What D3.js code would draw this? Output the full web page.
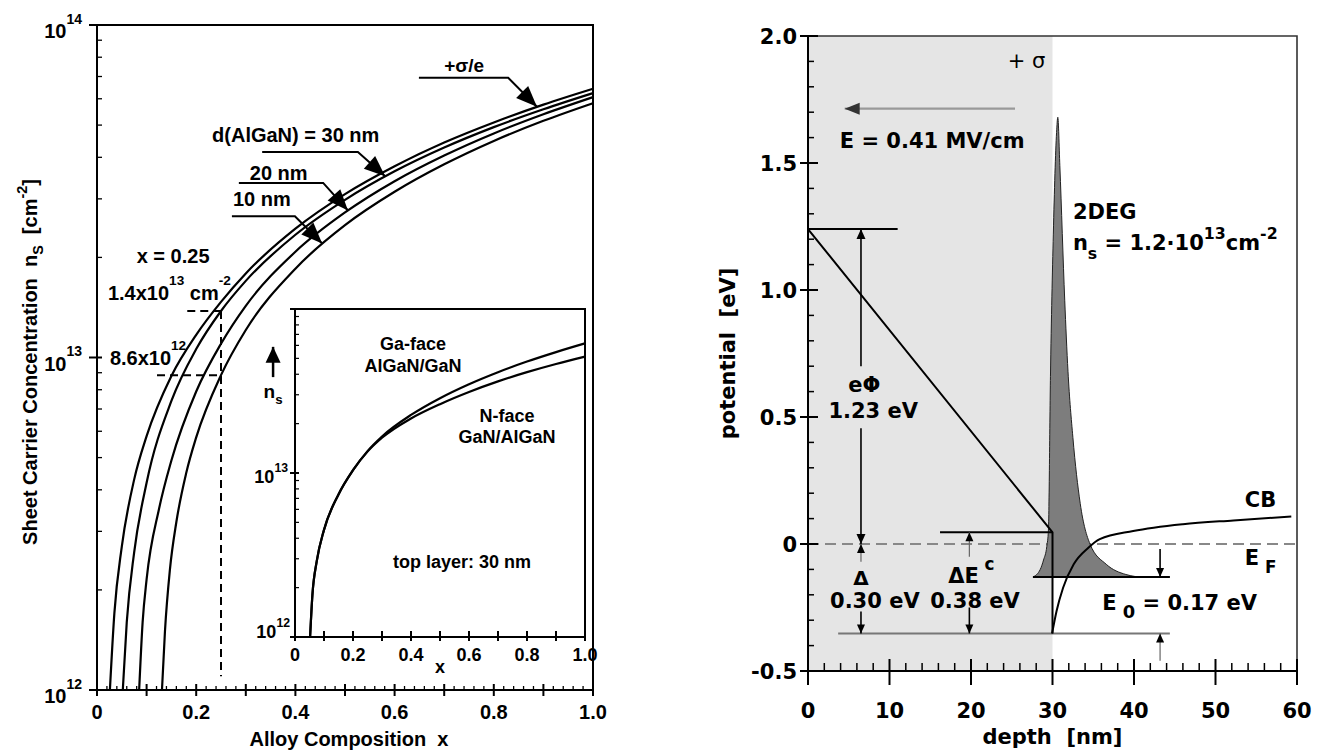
<!DOCTYPE html>
<html><head><meta charset="utf-8">
<script src="https://cdn.jsdelivr.net/npm/d3@7"></script>
<style>
body{margin:0;background:#fff;}
svg{display:block;}
text{white-space:pre;}
.lf{font-family:"Liberation Sans",Arial,Helvetica,sans-serif;font-weight:bold;}
.rf{font-family:"DejaVu Sans",sans-serif;font-weight:bold;}
</style></head><body>
<svg id="c" width="1324" height="754"></svg>
<script>
// ================= DATA =================
// Left panel: sheet carrier concentration vs Al composition x
const xSigma  = [0.026,0.035,0.050,0.075,0.100,0.150,0.200,0.250,0.300,0.400,0.500,0.600,0.700,0.800,0.900,1.000];
const nsSigma = [1.0e12,1.7e12,2.7e12,4.3e12,5.8e12,8.8e12,1.17e13,1.47e13,1.79e13,2.44e13,3.10e13,3.76e13,4.43e13,5.09e13,5.76e13,6.43e13];
const x30  = [0.052,0.060,0.075,0.100,0.150,0.200,0.250,0.300,0.400,0.500,0.600,0.700,0.800,0.900,1.000];
const ns30 = [1.0e12,1.6e12,2.6e12,4.2e12,7.4e12,1.06e13,1.38e13,1.70e13,2.34e13,2.98e13,3.63e13,4.28e13,4.93e13,5.58e13,6.24e13];
const x20  = [0.085,0.092,0.100,0.125,0.150,0.200,0.250,0.300,0.400,0.500,0.600,0.700,0.800,0.900,1.000];
const ns20 = [1.0e12,1.6e12,2.15e12,3.5e12,4.9e12,7.9e12,1.10e13,1.43e13,2.08e13,2.73e13,3.39e13,4.05e13,4.72e13,5.39e13,6.07e13];
const x10  = [0.131,0.137,0.147,0.160,0.180,0.200,0.250,0.300,0.400,0.500,0.600,0.700,0.800,0.900,1.000];
const ns10 = [1.0e12,1.5e12,2.3e12,3.2e12,4.5e12,5.75e12,8.85e12,1.21e13,1.85e13,2.50e13,3.15e13,3.81e13,4.48e13,5.15e13,5.82e13];
// x = 0.25 read-off
const markX = 0.25;
const markLevels = [1.38e13, 8.85e12];
const markStarts = [0.182, 0.121];
const markBottom = 1.1e12;
// Inset: Ga-face vs N-face (30 nm top layer)
const xGa  = [0.052,0.060,0.075,0.100,0.150,0.200,0.250,0.300,0.400,0.500,0.600,0.700,0.800,0.900,1.000];
const nsGa = [1.0e12,1.8e12,2.9e12,4.5e12,7.4e12,1.04e13,1.36e13,1.67e13,2.26e13,2.86e13,3.48e13,4.12e13,4.78e13,5.46e13,6.17e13];
const xN   = [0.052,0.060,0.075,0.100,0.150,0.200,0.250,0.300,0.400,0.500,0.600,0.700,0.800,0.900,1.000];
const nsN  = [1.0e12,1.8e12,2.9e12,4.5e12,7.4e12,1.04e13,1.35e13,1.64e13,2.15e13,2.63e13,3.12e13,3.62e13,4.12e13,4.62e13,5.12e13];
const xTickLabels = ["0","0.2","0.4","0.6","0.8","1.0"];
const xTickValues = [0,0.2,0.4,0.6,0.8,1.0];
const nsTickValues = [1e12,1e13,1e14];
const nsTickExp = ["12","13","14"];

// Right panel: band diagram
const barrierX = [0, 30, 30];
const barrierY = [1.24, 0.046, -0.352];
const cbX = [29.95,30.5,31.3,32.6,34.4,35.8,39.9,46.0,52.2,59.3];
const cbY = [-0.352,-0.264,-0.172,-0.080,-0.015,0.019,0.051,0.078,0.093,0.108];
const degX = [27.6,28.5,28.9,29.3,29.5,29.75,30.1,30.5,30.65,30.9,31.5,31.9,32.5,33.4,34.6,36.6,39.0,41.1,44.4];
const degY = [-0.13,-0.10,-0.063,-0.01,0.055,0.66,1.22,1.62,1.68,1.49,0.96,0.68,0.42,0.16,0.0,-0.08,-0.12,-0.13,-0.13];
const e0Level = -0.13;
const levelPhi = 1.24, levelDEc = 0.046, levelBottom = -0.352;
const depthTicks = [0,10,20,30,40,50,60];
const depthTickLabels = ["0","10","20","30","40","50","60"];
const potTicks = [-0.5,0,0.5,1.0,1.5,2.0];
const potTickLabels = ["-0.5","0","0.5","1.0","1.5","2.0"];

// ================= HELPERS =================
const svg = d3.select("#c");
function richText(g, x, y, parts, size, opt){
  opt = opt || {};
  const sup = opt.sup ?? 0.7, sub = opt.sub ?? 0.35, small = opt.small ?? 0.68;
  const t = g.append("text").attr("x",x).attr("y",y).attr("font-size",size);
  if(opt.anchor) t.attr("text-anchor",opt.anchor);
  if(opt.transform) t.attr("transform",opt.transform);
  let cur = 0;
  parts.forEach(p=>{
    const [k,s] = typeof p === "string" ? ["n",p] : p;
    const target = k==="sup" ? -size*sup : k==="sub" ? size*sub : 0;
    const ts = t.append("tspan").attr("dy", target-cur).text(s);
    if(k!=="n") ts.attr("font-size", size*small);
    cur = target;
  });
  return t;
}
function head(g, x1,y1,x2,y2,len,hw,fill){
  const dx=x2-x1, dy=y2-y1, L=Math.hypot(dx,dy), ux=dx/L, uy=dy/L;
  const bx=x2-ux*len, by=y2-uy*len;
  g.append("path").attr("d",`M${x2},${y2}L${bx-uy*hw},${by+ux*hw}L${bx+uy*hw},${by-ux*hw}Z`).attr("fill",fill||"#000");
}
function arrow(g,x1,y1,x2,y2,o){
  o=o||{};
  g.append("line").attr("x1",x1).attr("y1",y1).attr("x2",x2).attr("y2",y2)
   .attr("stroke",o.stroke||"#000").attr("stroke-width",o.sw||1.6);
  head(g,x1,y1,x2,y2,o.len||10,o.hw||4.5,o.fill);
}

// ================= LEFT PANEL =================
const xL = d3.scaleLinear().domain([0,1]).range([97,593]);
const yL = d3.scaleLog().domain([1e12,1e14]).range([690,25]);
const gL = svg.append("g").attr("class","lf");

gL.append("rect").attr("x",xL(0)).attr("y",yL(1e14)).attr("width",xL(1)-xL(0)).attr("height",yL(1e12)-yL(1e14))
  .attr("fill","none").attr("stroke","#000").attr("stroke-width",2);

// y ticks
yL.ticks().forEach(t=>{
  const major = nsTickValues.some(v=>Math.abs(v-t)/v<1e-6);
  gL.append("line").attr("x1",xL(0)-(major?8:0)).attr("x2",xL(0)+5)
    .attr("y1",yL(t)).attr("y2",yL(t)).attr("stroke","#000").attr("stroke-width",major?2:1.3);
});
nsTickValues.forEach((v,i)=>{
  richText(gL, xL(0)-15, yL(v)+13, ["10",["sup",nsTickExp[i]]], 20, {anchor:"end", sup:0.72, small:0.7});
});
// x ticks
d3.range(0,51).map(i=>i/50).forEach(t=>{
  const major = Math.abs(t*10-Math.round(t*10))<1e-6;
  gL.append("line").attr("x1",xL(t)).attr("x2",xL(t))
    .attr("y1",yL(1e12)-(major?6:4)).attr("y2",yL(1e12)+(major?6:0))
    .attr("stroke","#000").attr("stroke-width",major?2:1.3);
});
xTickValues.forEach((v,i)=>{
  gL.append("text").attr("x",xL(v)).attr("y",yL(1e12)+29).attr("text-anchor","middle").attr("font-size",20).text(xTickLabels[i]);
});
// axis titles
gL.append("text").attr("x",xL(0.508)).attr("y",746).attr("text-anchor","middle").attr("font-size",20).text("Alloy Composition  x");
richText(gL, 0, 0, ["Sheet Carrier Concentration  n",["sub","S"],"  [cm",["sup","-2"],"]"], 20,
  {anchor:"middle", transform:"translate(37,362) rotate(-90)", sup:0.5, sub:0.3, small:0.72});

// curves
const lineL = d3.line().x(d=>xL(d[0])).y(d=>yL(d[1])).curve(d3.curveMonotoneX);
[[xSigma,nsSigma],[x30,ns30],[x20,ns20],[x10,ns10]].forEach(([xs,ns])=>{
  gL.append("path").attr("d",lineL(d3.zip(xs,ns))).attr("fill","none").attr("stroke","#000").attr("stroke-width",2.2);
});
// dashed read-off
markLevels.forEach((lv,i)=>{
  gL.append("line").attr("x1",xL(markStarts[i])).attr("x2",xL(markX)).attr("y1",yL(lv)).attr("y2",yL(lv))
    .attr("stroke","#000").attr("stroke-width",2).attr("stroke-dasharray","8,5");
});
gL.append("line").attr("x1",xL(markX)).attr("x2",xL(markX)).attr("y1",yL(markLevels[0])).attr("y2",yL(markBottom))
  .attr("stroke","#000").attr("stroke-width",2).attr("stroke-dasharray","8,5");

// leader annotations (data units: x, log10 ns)
const leaders = [
  {x0:0.649,x1:0.829,lv:13.841,tx:0.887,tl:13.754},
  {x0:0.333,x1:0.526,lv:13.618,tx:0.581,tl:13.545},
  {x0:0.286,x1:0.456,lv:13.525,tx:0.506,tl:13.442},
  {x0:0.272,x1:0.399,lv:13.425,tx:0.454,tl:13.343}
];
leaders.forEach(a=>{
  const p0=[xL(a.x0),yL(10**a.lv)], p1=[xL(a.x1),yL(10**a.lv)], p2=[xL(a.tx),yL(10**a.tl)];
  gL.append("path").attr("d",`M${p0}L${p1}L${p2}`).attr("fill","none").attr("stroke","#000").attr("stroke-width",2);
  head(gL,p1[0],p1[1],p2[0],p2[1],21,8.5);
});
richText(gL, xL(0.700), yL(10**13.859), ["+σ/e"], 19);
richText(gL, xL(0.232), yL(10**13.648), ["d(AlGaN) = 30 nm"], 20);
richText(gL, xL(0.308), yL(10**13.534), ["20 nm"], 20);
richText(gL, xL(0.274), yL(10**13.455), ["10 nm"], 20);
richText(gL, xL(0.080), yL(10**13.284), ["x = 0.25"], 20);
richText(gL, xL(0.022), yL(10**13.173), ["1.4x10",["sup","13"]," cm",["sup","-2"]], 20, {sup:0.75});
richText(gL, xL(0.026), yL(10**12.977), ["8.6x10",["sup","12"]], 20, {sup:0.75});
// n_s arrow
arrow(gL, xL(0.355), yL(10**12.941), xL(0.355), yL(10**13.032), {sw:2.5, len:16, hw:7.5});
richText(gL, xL(0.355), yL(10**12.878), ["n",["sub","s"]], 19, {anchor:"middle", sub:0.3, small:0.7});

// ---- inset ----
const xI = d3.scaleLinear().domain([0,1]).range([295,585]);
const yI = d3.scaleLog().domain([1e12,1e14]).range([637,309]);
const gI = gL.append("g");
gI.append("rect").attr("x",xI(0)).attr("y",yI(1e14)).attr("width",xI(1)-xI(0)).attr("height",yI(1e12)-yI(1e14))
  .attr("fill","#fff").attr("stroke","#000").attr("stroke-width",2);
yI.ticks().forEach(t=>{
  const major = [1e12,1e13,1e14].some(v=>Math.abs(v-t)/v<1e-6);
  gI.append("line").attr("x1",xI(0)-(major?5:0)).attr("x2",xI(0)+4).attr("y1",yI(t)).attr("y2",yI(t))
    .attr("stroke","#000").attr("stroke-width",major?2:1.2);
});
d3.range(0,11).map(i=>i/10).forEach(t=>{
  gI.append("line").attr("x1",xI(t)).attr("x2",xI(t)).attr("y1",yI(1e12)-6).attr("y2",yI(1e12)+4)
    .attr("stroke","#000").attr("stroke-width",2);
});
xTickValues.forEach((v,i)=>{
  gI.append("text").attr("x",xI(v)).attr("y",yI(1e12)+24).attr("text-anchor","middle").attr("font-size",18).text(xTickLabels[i]);
});
richText(gI, xI(0)-7, yI(1e13)+10, ["10",["sup","13"]], 18, {anchor:"end", sup:0.6});
richText(gI, xI(0)-5, yI(1e12)+1, ["10",["sup","12"]], 18, {anchor:"end", sup:0.6});
gI.append("text").attr("x",xI(0.5)).attr("y",yI(1e12)+36).attr("text-anchor","middle").attr("font-size",18).text("x");
[[xGa,nsGa],[xN,nsN]].forEach(([xs,ns])=>{
  gI.append("path").attr("d",d3.line().x(d=>xI(d[0])).y(d=>yI(d[1])).curve(d3.curveMonotoneX)(d3.zip(xs,ns)))
    .attr("fill","none").attr("stroke","#000").attr("stroke-width",2.2);
});
gI.append("text").attr("x",xI(0.407)).attr("y",yI(10**13.75)).attr("text-anchor","middle").attr("font-size",18).text("Ga-face");
gI.append("text").attr("x",xI(0.407)).attr("y",yI(10**13.616)).attr("text-anchor","middle").attr("font-size",18).text("AlGaN/GaN");
gI.append("text").attr("x",xI(0.731)).attr("y",yI(10**13.311)).attr("text-anchor","middle").attr("font-size",18).text("N-face");
gI.append("text").attr("x",xI(0.731)).attr("y",yI(10**13.183)).attr("text-anchor","middle").attr("font-size",18).text("GaN/AlGaN");
gI.append("text").attr("x",xI(0.576)).attr("y",yI(10**12.421)).attr("text-anchor","middle").attr("font-size",18).text("top layer: 30 nm");

// ================= RIGHT PANEL =================
const xR = d3.scaleLinear().domain([0,60]).range([808,1297]);
const yR = d3.scaleLinear().domain([-0.5,2.0]).range([671,36]);
const gR = svg.append("g").attr("class","rf");

gR.append("rect").attr("x",xR(0)).attr("y",yR(2.0)).attr("width",xR(30)-xR(0)).attr("height",yR(-0.5)-yR(2.0)).attr("fill","#e5e5e5");
gR.append("path").attr("d",`M${xR(0)},${yR(2)}H${xR(60)}V${yR(-0.5)}`).attr("fill","none").attr("stroke","#333").attr("stroke-width",1.6);
// EF dashed
gR.append("line").attr("x1",xR(0)).attr("x2",xR(60)).attr("y1",yR(0)).attr("y2",yR(0))
  .attr("stroke","#888").attr("stroke-width",2).attr("stroke-dasharray","11,6");
// 2DEG
const degData = d3.zip(degX,degY);
gR.append("path").attr("d",d3.area().x(d=>xR(d[0])).y0(yR(e0Level)).y1(d=>yR(d[1])).curve(d3.curveMonotoneX)(degData))
  .attr("fill","#7d7d7d");
gR.append("path").attr("d",d3.line().x(d=>xR(d[0])).y(d=>yR(d[1])).curve(d3.curveMonotoneX)(degData))
  .attr("fill","none").attr("stroke","#222").attr("stroke-width",1);
// level lines
gR.append("line").attr("x1",xR(27.6)).attr("x2",xR(44.4)).attr("y1",yR(e0Level)).attr("y2",yR(e0Level)).attr("stroke","#000").attr("stroke-width",1.8);
gR.append("line").attr("x1",xR(3.7)).attr("x2",xR(44.4)).attr("y1",yR(levelBottom)).attr("y2",yR(levelBottom)).attr("stroke","#777").attr("stroke-width",2);
gR.append("line").attr("x1",xR(16.2)).attr("x2",xR(30)).attr("y1",yR(levelDEc)).attr("y2",yR(levelDEc)).attr("stroke","#000").attr("stroke-width",2);
gR.append("line").attr("x1",xR(0)).attr("x2",xR(11)).attr("y1",yR(levelPhi)).attr("y2",yR(levelPhi)).attr("stroke","#000").attr("stroke-width",2);
// barrier & CB
gR.append("path").attr("d",d3.line().x(d=>xR(d[0])).y(d=>yR(d[1]))(d3.zip(barrierX,barrierY)))
  .attr("fill","none").attr("stroke","#000").attr("stroke-width",2);
gR.append("path").attr("d",d3.line().x(d=>xR(d[0])).y(d=>yR(d[1])).curve(d3.curveMonotoneX)(d3.zip(cbX,cbY)))
  .attr("fill","none").attr("stroke","#000").attr("stroke-width",2);

// axes
gR.append("line").attr("x1",xR(0)).attr("x2",xR(0)).attr("y1",yR(2)).attr("y2",yR(-0.5)).attr("stroke","#000").attr("stroke-width",2);
gR.append("line").attr("x1",xR(0)).attr("x2",xR(60)).attr("y1",yR(-0.5)).attr("y2",yR(-0.5)).attr("stroke","#000").attr("stroke-width",2);
d3.range(-5,21).map(i=>i/10).forEach(t=>{
  const major = Math.abs(t*2-Math.round(t*2))<1e-6;
  gR.append("line").attr("x1",xR(0)-(major?8:0)).attr("x2",xR(0)+(major?10:6)).attr("y1",yR(t)).attr("y2",yR(t))
    .attr("stroke","#000").attr("stroke-width",major?2:1.5);
});
d3.range(0,31).map(i=>i*2).forEach(t=>{
  const major = t%10===0;
  gR.append("line").attr("x1",xR(t)).attr("x2",xR(t)).attr("y1",yR(-0.5)-(major?12:8)).attr("y2",yR(-0.5)+(major?14:0))
    .attr("stroke","#000").attr("stroke-width",major?2:1.5);
});
potTicks.forEach((v,i)=>{
  gR.append("text").attr("x",xR(0)-11).attr("y",yR(v)+8).attr("text-anchor","end").attr("font-size",21).text(potTickLabels[i]);
});
depthTicks.forEach((v,i)=>{
  gR.append("text").attr("x",xR(v)).attr("y",yR(-0.5)+47).attr("text-anchor","middle").attr("font-size",21).text(depthTickLabels[i]);
});
gR.append("text").attr("transform",`translate(735,${yR(0.75)}) rotate(-90)`).attr("text-anchor","middle").attr("font-size",21).text("potential  [eV]");
gR.append("text").attr("x",xR(30)).attr("y",744).attr("text-anchor","middle").attr("font-size",21).text("depth  [nm]");

// annotations
richText(gR, xR(24.5), yR(1.875), ["+ σ"], 21, {}).attr("font-weight","normal");
arrow(gR, xR(25.4), yR(1.714), xR(4.5), yR(1.714), {stroke:"#999", sw:2.2, len:15, hw:6, fill:"#333"});
richText(gR, xR(3.9), yR(1.56), ["E = 0.41 MV/cm"], 21);
richText(gR, xR(32.5), yR(1.28), ["2DEG"], 21);
richText(gR, xR(32.5), yR(1.156), ["n",["sub","s"]," = 1.2·10",["sup","13"],"cm",["sup","-2"]], 21, {sup:0.55, sub:0.4, small:0.75});
richText(gR, xR(53.6), yR(0.145), ["CB"], 21);
richText(gR, xR(53.6), yR(-0.083), ["E",["sub"," F"]], 21, {sub:0.4, small:0.8});
richText(gR, xR(36.1), yR(-0.26), ["E",["sub"," 0"],["n"," = 0.17 eV"]], 21, {sub:0.4, small:0.85});
// eΦ
arrow(gR, xR(6.5), yR(0.70), xR(6.5), yR(levelPhi));
arrow(gR, xR(6.5), yR(0.456), xR(6.5), yR(0));
gR.append("text").attr("x",xR(6.9)).attr("y",yR(0.6)).attr("text-anchor","middle").attr("font-size",21).text("eΦ");
gR.append("text").attr("x",xR(8.0)).attr("y",yR(0.495)).attr("text-anchor","middle").attr("font-size",21).text("1.23 eV");
// Δ
arrow(gR, xR(6.5), yR(-0.07), xR(6.5), yR(0), {stroke:"#666", sw:1.2, len:9, hw:4});
arrow(gR, xR(6.5), yR(-0.266), xR(6.5), yR(levelBottom), {len:9, hw:4});
gR.append("text").attr("x",xR(6.5)).attr("y",yR(-0.162)).attr("text-anchor","middle").attr("font-size",20).text("Δ");
gR.append("text").attr("x",xR(8.2)).attr("y",yR(-0.252)).attr("text-anchor","middle").attr("font-size",21).text("0.30 eV");
// ΔEc
arrow(gR, xR(19.8), yR(-0.05), xR(19.8), yR(levelDEc), {stroke:"#666", sw:1.2, len:9, hw:4});
arrow(gR, xR(19.8), yR(-0.25), xR(19.8), yR(levelBottom), {len:9, hw:4});
richText(gR, xR(17.2), yR(-0.153), ["ΔE",["sup"," c"]], 21, {sup:0.6, small:0.8});
gR.append("text").attr("x",xR(20.5)).attr("y",yR(-0.25)).attr("text-anchor","middle").attr("font-size",21).text("0.38 eV");
// E0 arrows
arrow(gR, xR(43.2), yR(-0.02), xR(43.2), yR(e0Level), {len:9, hw:4});
arrow(gR, xR(43.2), yR(-0.46), xR(43.2), yR(levelBottom), {stroke:"#666", sw:1.2, len:9, hw:4});
</script>
</body></html>
